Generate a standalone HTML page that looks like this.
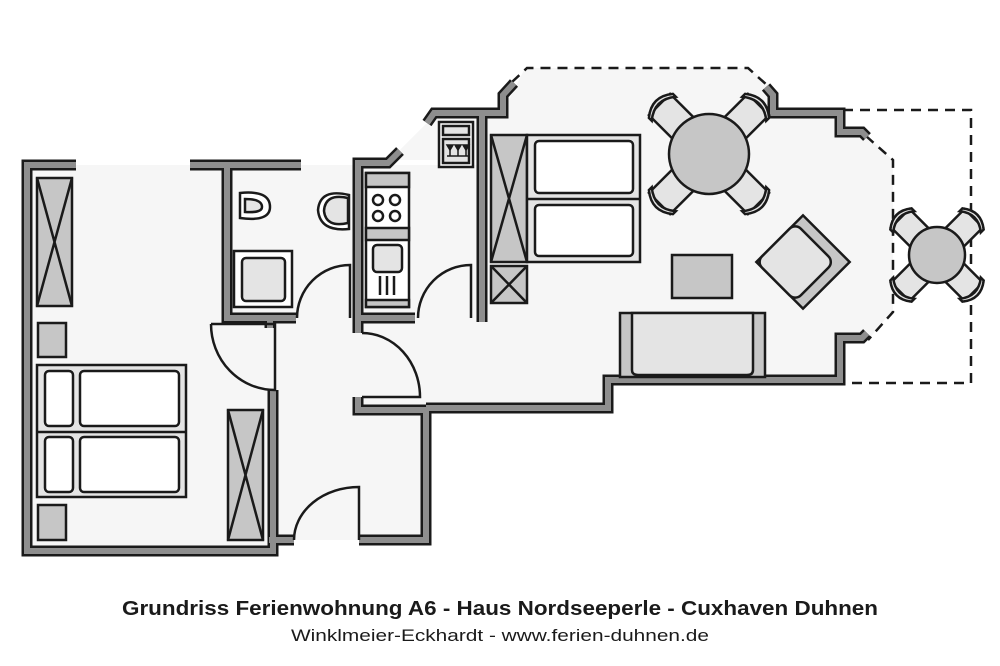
<!DOCTYPE html>
<html><head><meta charset="utf-8"><style>
html,body{margin:0;padding:0;background:#fff;}
svg{display:block;}
</style></head><body>
<svg width="1000" height="666" viewBox="0 0 1000 666" xmlns="http://www.w3.org/2000/svg">
<defs>
<g id="chair">
<rect x="-15" y="-70" width="30" height="40" fill="#e4e4e4" stroke="#1a1a1a" stroke-width="2.5"/>
<path d="M-17,-64 Q0,-78 17,-64 L17,-68 Q0,-82 -17,-68 Z" fill="#e4e4e4" stroke="#1a1a1a" stroke-width="2.5"/>
</g>
<g id="chairS">
<rect x="-13" y="-52" width="26" height="30" fill="#e4e4e4" stroke="#1a1a1a" stroke-width="2.5"/>
<path d="M-15,-47 Q0,-59 15,-47 L15,-51 Q0,-63 -15,-51 Z" fill="#e4e4e4" stroke="#1a1a1a" stroke-width="2.5"/>
</g>
</defs>
<g fill="#f6f6f6">
<rect x="27" y="165" width="246" height="386"/>
<rect x="227" y="165" width="255" height="153"/>
<rect x="273" y="318" width="157" height="222"/>
<polygon points="400,150 430,120 503,112 525,68 748,68 773,88 773,113 840,113 840,132 865,135 893,160 893,310 868,340 840,338 840,380 608,380 608,408 358,408 358,318 482,318 482,112"/>
<polygon points="482,112 482,160 400,160 400,150 430,120"/>
</g>
<g fill="none" stroke="#1a1a1a" stroke-width="2.5" stroke-dasharray="10,7">
<polyline points="843,110 971,110 971,383 843,383"/>
<polyline points="512,82 527,68 748,68 768,86"/>
<polyline points="866,136 893,160 893,312 868,340"/>
</g>
<g fill="none" stroke-linejoin="miter" stroke-linecap="butt">
<g stroke="#1a1a1a" stroke-width="11">
<polyline points="76,165 27,165 27,551 273,551 273,390"/>
<polyline points="269,540 294,540"/>
<polyline points="359,540 426,540 426,410 358,410 358,397"/>
<polyline points="426,408 608,408 608,380 840,380 840,338 862,338 867,333"/>
<polyline points="190,165 301,165"/>
<polyline points="227,165 227,318 296,318"/>
<polyline points="270,318 270,328"/>
<polyline points="358,333 358,318 415,318"/>
<polyline points="358,318 358,163 388,163 400,151"/>
<polyline points="427,123 434,113 503,113 503,95 514,83"/>
<polyline points="482,113 482,322"/>
<polyline points="766,87 773,95 773,113 840,113 840,132 862,132 867,137"/>
</g>
<g stroke="#8e8e8e" stroke-width="6">
<polyline points="76,165 27,165 27,551 273,551 273,390"/>
<polyline points="269,540 294,540"/>
<polyline points="359,540 426,540 426,410 358,410 358,397"/>
<polyline points="426,408 608,408 608,380 840,380 840,338 862,338 867,333"/>
<polyline points="190,165 301,165"/>
<polyline points="227,165 227,318 296,318"/>
<polyline points="270,318 270,328"/>
<polyline points="358,333 358,318 415,318"/>
<polyline points="358,318 358,163 388,163 400,151"/>
<polyline points="427,123 434,113 503,113 503,95 514,83"/>
<polyline points="482,113 482,322"/>
<polyline points="766,87 773,95 773,113 840,113 840,132 862,132 867,137"/>
</g>
</g>
<g fill="none" stroke="#1a1a1a" stroke-width="2.5">
<path d="M350,318 L350,265 A53,53 0 0 0 297,318"/>
<path d="M471,318 L471,265 A53,53 0 0 0 418,318"/>
<path d="M359,540 L359,487 A65,53 0 0 0 294,540"/>
<path d="M211,324 L275,324 L275,390 A64,66 0 0 1 211,324"/>
<path d="M362,333 A58,64 0 0 1 420,397 L362,397"/>
</g>
<g stroke="#1a1a1a" stroke-width="2.5">
<rect x="37" y="178" width="35" height="128" fill="#c6c6c6"/>
<path d="M37,178 L72,306 M72,178 L37,306" fill="none"/>
<rect x="38" y="323" width="28" height="34" fill="#c6c6c6"/>
<rect x="38" y="505" width="28" height="35" fill="#c6c6c6"/>
<rect x="37" y="365" width="149" height="132" fill="#e4e4e4"/>
<line x1="37" y1="432" x2="186" y2="432"/>
<rect x="45" y="371" width="28" height="55" rx="4" fill="#fff"/>
<rect x="80" y="371" width="99" height="55" rx="4" fill="#fff"/>
<rect x="45" y="437" width="28" height="55" rx="4" fill="#fff"/>
<rect x="80" y="437" width="99" height="55" rx="4" fill="#fff"/>
<rect x="228" y="410" width="35" height="130" fill="#c6c6c6"/>
<path d="M228,410 L263,540 M263,410 L228,540" fill="none"/>
<path d="M240,193 Q270,190 270,207 Q270,222 240,218 Z" fill="#fff"/>
<path d="M245,199 Q262,199 262,207 Q262,213 245,212 Z" fill="#e4e4e4"/>
<path d="M349,195 Q320,188 318,210 Q320,232 349,229 Z" fill="#fff"/>
<path d="M348,198 Q325,193 324,211 Q326,228 348,223 Z" fill="#e4e4e4"/>
<rect x="234" y="251" width="58" height="56" fill="#fff"/>
<rect x="242" y="258" width="43" height="43" rx="4" fill="#e4e4e4"/>
<rect x="366" y="173" width="43" height="134" fill="#fff"/>
<rect x="366" y="173" width="43" height="14" fill="#c6c6c6"/>
<rect x="366" y="228" width="43" height="12" fill="#c6c6c6"/>
<rect x="366" y="300" width="43" height="7" fill="#c6c6c6"/>
<circle cx="378" cy="200" r="5" fill="#fff"/><circle cx="395" cy="200" r="5" fill="#fff"/>
<circle cx="378" cy="216" r="5" fill="#fff"/><circle cx="395" cy="216" r="5" fill="#fff"/>
<rect x="373" y="245" width="29" height="27" rx="4" fill="#e4e4e4"/>
<path d="M380,276 V295 M387,276 V295 M394,276 V295" fill="none"/>
<rect x="439" y="122" width="34" height="45" fill="#fff"/>
<rect x="443" y="126" width="26" height="9" fill="#e4e4e4"/>
<rect x="443" y="139" width="26" height="24" fill="#e4e4e4"/>
<rect x="491" y="135" width="36" height="127" fill="#c6c6c6"/>
<path d="M491,135 L527,262 M527,135 L491,262" fill="none"/>
<rect x="491" y="266" width="36" height="37" fill="#c6c6c6"/>
<path d="M491,266 L527,303 M527,266 L491,303" fill="none"/>
<rect x="527" y="135" width="113" height="127" fill="#e4e4e4"/>
<line x1="527" y1="199" x2="640" y2="199"/>
<rect x="535" y="141" width="98" height="52" rx="4" fill="#fff"/>
<rect x="535" y="205" width="98" height="51" rx="4" fill="#fff"/>
<rect x="672" y="255" width="60" height="43" fill="#c6c6c6"/>
<rect x="620" y="313" width="145" height="64" fill="#c6c6c6"/>
<path d="M632,313 V370 Q632,375 638,375 H747 Q753,375 753,370 V313 Z" fill="#e4e4e4"/>
<g transform="translate(803,262) rotate(45)">
<rect x="-33" y="-33" width="66" height="66" fill="#c6c6c6"/>
<rect x="-33" y="-22" width="55" height="55" rx="8" fill="#e4e4e4"/>
</g>
</g>
<g stroke="#1a1a1a" stroke-width="1.5" fill="#1a1a1a">
<path d="M447,145 h6 l-3,5 z M455,145 h6 l-3,5 z M463,145 h6 l-3,5 z" />
<path d="M450,150 v6 M458,150 v6 M466,150 v6 M447,156 h22" fill="none"/>
</g>
<g transform="translate(709,154)">
<use href="#chair" transform="rotate(45)"/><use href="#chair" transform="rotate(135)"/>
<use href="#chair" transform="rotate(225)"/><use href="#chair" transform="rotate(315)"/>
<circle cx="0" cy="0" r="40" fill="#c6c6c6" stroke="#1a1a1a" stroke-width="2.5"/>
</g>
<g transform="translate(937,255)">
<use href="#chairS" transform="rotate(45)"/><use href="#chairS" transform="rotate(135)"/>
<use href="#chairS" transform="rotate(225)"/><use href="#chairS" transform="rotate(315)"/>
<circle cx="0" cy="0" r="28" fill="#c6c6c6" stroke="#1a1a1a" stroke-width="2.5"/>
</g>
<text x="500" y="615" text-anchor="middle" font-family="Liberation Sans, sans-serif" font-size="20" font-weight="bold" fill="#1a1a1a" textLength="756" lengthAdjust="spacingAndGlyphs">Grundriss Ferienwohnung A6 - Haus Nordseeperle - Cuxhaven Duhnen</text>
<text x="500" y="641" text-anchor="middle" font-family="Liberation Sans, sans-serif" font-size="17" fill="#1a1a1a" textLength="418" lengthAdjust="spacingAndGlyphs">Winklmeier-Eckhardt - www.ferien-duhnen.de</text>
</svg>
</body></html>
